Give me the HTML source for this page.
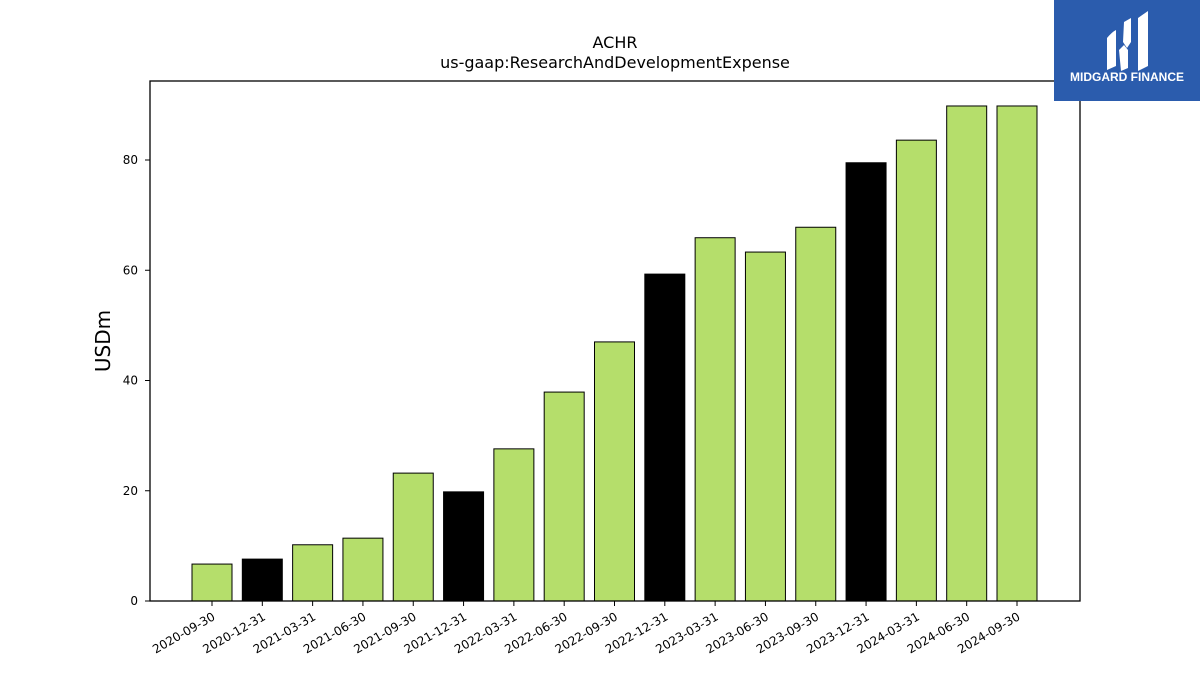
<!DOCTYPE html>
<html><head><meta charset="utf-8"><style>
body{margin:0;background:#fff;width:1200px;height:675px;overflow:hidden;font-family:"Liberation Sans","DejaVu Sans",sans-serif}
</style></head><body>
<svg id="chart" width="1200" height="675" xmlns="http://www.w3.org/2000/svg" style="font-family:'DejaVu Sans','Liberation Sans',sans-serif">
<text x="615" y="48" text-anchor="middle" font-size="16">ACHR</text>
<text x="615" y="68" text-anchor="middle" font-size="16">us-gaap:ResearchAndDevelopmentExpense</text>
<text transform="translate(110,341) rotate(-90)" text-anchor="middle" font-size="20">USDm</text>
<g id="bars"></g>
<g id="axes"></g>
<g>
<rect x="1054" y="0" width="146" height="101" fill="#2b5cad"/>
<path d="M1107 38 Q1112 32 1116 30 L1116 66 L1107 70 Z M1124 22 L1131 18 L1131 42 L1127 48 L1123 42 Z M1119 50 L1124 45 L1128 50 L1128 68 L1121 71 Z M1138 18 L1148 11 L1148 66 L1138 71 Z" fill="#fff"/>
<text x="1127" y="81" text-anchor="middle" font-size="12" font-weight="bold" fill="#fff" font-family="Liberation Sans, sans-serif">MIDGARD FINANCE</text>
</g>
</svg>
<script>
const categories=["2020-09-30","2020-12-31","2021-03-31","2021-06-30","2021-09-30","2021-12-31","2022-03-31","2022-06-30","2022-09-30","2022-12-31","2023-03-31","2023-06-30","2023-09-30","2023-12-31","2024-03-31","2024-06-30","2024-09-30"];
const values=[6.7,7.6,10.2,11.4,23.2,19.8,27.6,37.9,47.0,59.3,65.9,63.3,67.8,79.5,83.6,89.8,89.8];
const annual=[false,true,false,false,false,true,false,false,false,true,false,false,false,true,false,false,false];
const yTicks=[0,20,40,60,80];
const NS="http://www.w3.org/2000/svg";
const L=150,R=1080,T=81,B=601;
function y(v){return B-v*(441/80);}
function x(i){return 212+i*(1017-212)/(categories.length-1);}
const bars=document.getElementById('bars'),axes=document.getElementById('axes');
function mk(tag,attrs,parent){const e=document.createElementNS(NS,tag);for(const k in attrs)e.setAttribute(k,attrs[k]);parent.appendChild(e);return e;}
values.forEach((v,i)=>{
 const r=mk('rect',{x:x(i)-20,y:y(v),width:40,height:B-y(v),fill:annual[i]?'#000':'#b5de6b',stroke:'#000','stroke-width':1},bars);
 
 
 const t=mk('line',{x1:x(i),x2:x(i),y1:B,y2:B+5,stroke:'#000'},axes);
 
 
 const lb=mk('text',{transform:`translate(${x(i)+4},${B+18}) rotate(-30)`,'text-anchor':'end','font-size':12},axes);
 lb.textContent=categories[i];
 
 
});
yTicks.forEach(v=>{
 const t=mk('line',{x1:L-5,x2:L,y1:y(v),y2:y(v),stroke:'#000'},axes);
 
 
 const lb=mk('text',{x:L-12,y:y(v)+4,'text-anchor':'end','font-size':12},axes);
 lb.textContent=v;
 
 
});
const fr=mk('rect',{x:L,y:T,width:R-L,height:B-T,fill:'none',stroke:'#000','stroke-width':1.3},axes);


</script>
</body></html>
